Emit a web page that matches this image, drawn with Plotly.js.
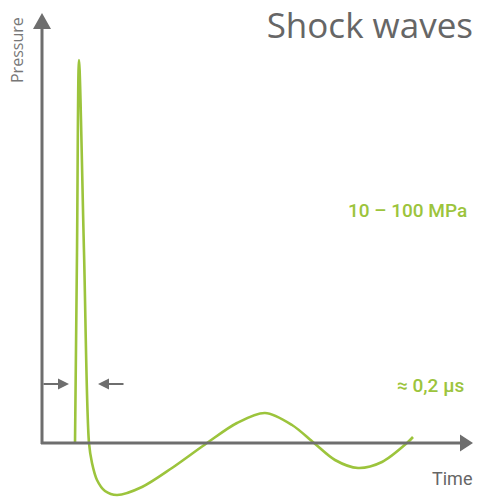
<!DOCTYPE html>
<html>
<head>
<meta charset="utf-8">
<script src="https://cdn.plot.ly/plotly-3.0.1.min.js"></script>
<style>html,body{margin:0;padding:0;background:#fff;}#chart{width:477px;height:498px;}</style>
</head>
<body>
<div id="chart"></div>
<script>
// Pressure over time of a shock wave (arbitrary units)
const timeValues = [33, 35, 37, 42, 47, 50, 55, 63, 75, 100, 130, 165, 195, 223, 250, 272, 293, 316, 340, 365, 371];
const pressureValues = [0, 190, 383, 191, 0, -20, -37, -48, -52, -44, -25, 0, 20, 30, 18, 0, -17, -25, -19, 0, 6];

const titleText = "Shock waves";
const yLabel = "Pressure";
const xLabel = "Time";
const pressureRangeLabel = "10 – 100 MPa";
const durationLabel = "≈ 0,2 µs";

const GREEN = "#9cc43c";
const GREY = "#6e6e6e";

const trace = {
  x: timeValues,
  y: pressureValues,
  mode: "lines",
  line: {color: GREEN, width: 2.6, shape: "spline", smoothing: 0.9},
  hoverinfo: "skip"
};

const W = 477, H = 498;
const px = v => v / W;
const py = v => 1 - v / H;

const layout = {
  width: W, height: H,
  margin: {l: 0, r: 0, t: 0, b: 0},
  paper_bgcolor: "#fff", plot_bgcolor: "#fff",
  showlegend: false,
  xaxis: {range: [-42, 435], visible: false, fixedrange: true},
  yaxis: {range: [-55, 443], visible: false, fixedrange: true},
  title: {
    text: titleText,
    font: {family: "Open Sans", size: 35, color: "#666"},
    x: px(473), xanchor: "right", xref: "paper",
    y: py(26), yanchor: "middle", yref: "paper"
  },
  shapes: [
    // y axis line + arrowhead
    {type: "line", xref: "x", yref: "y", x0: 0, x1: 0, y0: -1, y1: 416, line: {color: GREY, width: 3}},
    {type: "path", xref: "x", yref: "y", path: "M -9 414 L 9 414 L 0 430 Z", fillcolor: GREY, line: {width: 0}},
    // x axis line + arrowhead
    {type: "line", xref: "x", yref: "y", x0: -1, x1: 420, y0: 0, y1: 0, line: {color: GREY, width: 3}},
    {type: "path", xref: "x", yref: "y", path: "M 418 8.5 L 418 -8.5 L 431 0 Z", fillcolor: GREY, line: {width: 0}}
  ],
  annotations: [
    {text: yLabel, xref: "paper", yref: "paper", x: px(17), y: py(50), textangle: -90,
     showarrow: false, xanchor: "center", yanchor: "middle",
     font: {family: "Open Sans", size: 16, color: "#777"}},
    {text: xLabel, xref: "paper", yref: "paper", x: px(474), y: py(478),
     showarrow: false, xanchor: "right", yanchor: "middle",
     font: {family: "Roboto", size: 18, color: "#666"}},
    {text: pressureRangeLabel, xref: "paper", yref: "paper", x: px(469), y: py(211),
     showarrow: false, xanchor: "right", yanchor: "middle",
     font: {family: "Roboto", size: 19, weight: 500, color: GREEN}},
    {text: durationLabel, xref: "paper", yref: "paper", x: px(466), y: py(385),
     showarrow: false, xanchor: "right", yanchor: "middle",
     font: {family: "Roboto", size: 19, weight: 500, color: GREEN}},
    // small width arrows
    {text: "", xref: "x", yref: "y", axref: "x", ayref: "y", x: 27, y: 59, ax: 0, ay: 59,
     showarrow: true, arrowhead: 2, arrowsize: 1, arrowwidth: 2.2, arrowcolor: GREY, standoff: 0, startstandoff: 0},
    {text: "", xref: "x", yref: "y", axref: "x", ayref: "y", x: 56, y: 59, ax: 83, ay: 59,
     showarrow: true, arrowhead: 2, arrowsize: 1, arrowwidth: 2.2, arrowcolor: GREY, standoff: 0, startstandoff: 0}
  ]
};

Plotly.newPlot("chart", [trace], layout, {displayModeBar: false, staticPlot: true});
</script>
</body>
</html>
